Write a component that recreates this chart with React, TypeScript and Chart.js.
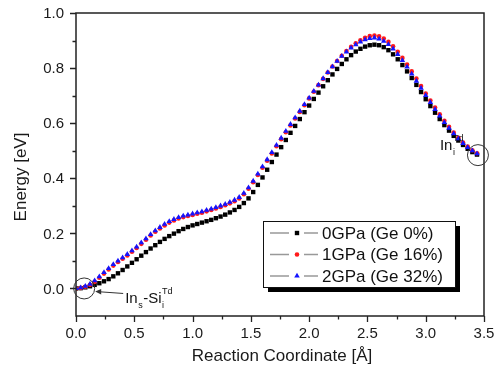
import React, { useEffect, useRef } from "react";
import { Chart, registerables } from "chart.js";

Chart.register(...registerables);

// Reaction coordinate [Å]
const X_COORD = [
  0.0, 0.04, 0.08, 0.12, 0.16, 0.2, 0.24, 0.28, 0.32, 0.36,
  0.4, 0.44, 0.48, 0.52, 0.56, 0.6, 0.64, 0.68, 0.72, 0.76,
  0.8, 0.84, 0.88, 0.92, 0.96, 1.0, 1.04, 1.08, 1.12, 1.16,
  1.2, 1.24, 1.28, 1.32, 1.36, 1.4, 1.44, 1.48, 1.52, 1.56,
  1.6, 1.64, 1.68, 1.72, 1.76, 1.8, 1.84, 1.88, 1.92, 1.96,
  2.0, 2.04, 2.08, 2.12, 2.16, 2.2, 2.24, 2.28, 2.32, 2.36,
  2.4, 2.44, 2.48, 2.52, 2.56, 2.6, 2.64, 2.68, 2.72, 2.76,
  2.8, 2.84, 2.88, 2.92, 2.96, 3.0, 3.04, 3.08, 3.12, 3.16,
  3.2, 3.24, 3.28, 3.32, 3.36, 3.4, 3.44,
];

// Energy [eV], 0 GPa (Ge 0%)
const E_0GPA = [
  0.0, 0.001, 0.004, 0.008, 0.013, 0.019, 0.026, 0.034, 0.044, 0.055,
  0.067, 0.08, 0.093, 0.106, 0.119, 0.132, 0.145, 0.157, 0.169, 0.18,
  0.19, 0.199, 0.208, 0.216, 0.223, 0.229, 0.234, 0.239, 0.244, 0.249,
  0.255, 0.261, 0.268, 0.276, 0.285, 0.296, 0.31, 0.327, 0.35, 0.376,
  0.403, 0.431, 0.459, 0.486, 0.513, 0.539, 0.565, 0.59, 0.615, 0.64,
  0.664, 0.688, 0.711, 0.734, 0.756, 0.777, 0.797, 0.815, 0.832, 0.847,
  0.86, 0.87, 0.878, 0.883, 0.885, 0.883, 0.876, 0.865, 0.85, 0.832,
  0.811, 0.788, 0.764, 0.739, 0.713, 0.687, 0.662, 0.638, 0.615, 0.593,
  0.573, 0.554, 0.537, 0.521, 0.507, 0.495, 0.486,
];

// Energy [eV], 1 GPa (Ge 16%)
const E_1GPA = [
  0.0, 0.002, 0.006, 0.013, 0.024, 0.039, 0.054, 0.069, 0.083, 0.096,
  0.108, 0.12, 0.133, 0.147, 0.162, 0.177, 0.192, 0.206, 0.218, 0.229,
  0.239, 0.247, 0.254, 0.259, 0.263, 0.267, 0.271, 0.275, 0.28, 0.285,
  0.29, 0.296, 0.302, 0.309, 0.317, 0.327, 0.342, 0.362, 0.386, 0.412,
  0.438, 0.464, 0.49, 0.516, 0.542, 0.567, 0.592, 0.617, 0.641, 0.665,
  0.69, 0.714, 0.738, 0.761, 0.784, 0.806, 0.826, 0.845, 0.862, 0.877,
  0.89, 0.901, 0.91, 0.916, 0.918, 0.915, 0.907, 0.895, 0.879, 0.859,
  0.837, 0.813, 0.788, 0.762, 0.735, 0.708, 0.682, 0.657, 0.632, 0.609,
  0.587, 0.566, 0.547, 0.53, 0.515, 0.502, 0.491,
];

// Energy [eV], 2 GPa (Ge 32%)
const E_2GPA = [
  0.0, 0.003, 0.008, 0.016, 0.028, 0.043, 0.058, 0.073, 0.087, 0.1,
  0.112, 0.124, 0.137, 0.151, 0.166, 0.181, 0.196, 0.21, 0.222, 0.233,
  0.243, 0.251, 0.258, 0.263, 0.267, 0.271, 0.275, 0.279, 0.284, 0.289,
  0.294, 0.3, 0.306, 0.313, 0.321, 0.331, 0.346, 0.366, 0.39, 0.416,
  0.442, 0.468, 0.494, 0.52, 0.546, 0.571, 0.596, 0.62, 0.644, 0.668,
  0.692, 0.716, 0.739, 0.762, 0.784, 0.805, 0.825, 0.843, 0.859, 0.873,
  0.885, 0.895, 0.903, 0.908, 0.91, 0.906, 0.898, 0.886, 0.87, 0.85,
  0.828, 0.804, 0.779, 0.753, 0.727, 0.701, 0.675, 0.65, 0.626, 0.603,
  0.582, 0.562, 0.544, 0.527, 0.512, 0.5, 0.489,
];

const SERIES_LABELS = ["0GPa (Ge 0%)", "1GPa (Ge 16%)", "2GPa (Ge 32%)"];
const SERIES_VALUES = [E_0GPA, E_1GPA, E_2GPA];
const SERIES_COLORS = ["#000000", "#ff1a1a", "#1414ff"];
const SERIES_MARKERS = ["rect", "circle", "triangle"];
const SERIES_RADII = [3.1, 2.3, 3.2];

const X_TICKS = [0, 0.5, 1.0, 1.5, 2.0, 2.5, 3.0, 3.5];
const X_TICK_LABELS = ["0.0", "0.5", "1.0", "1.5", "2.0", "2.5", "3.0", "3.5"];
const X_MINOR = [0.25, 0.75, 1.25, 1.75, 2.25, 2.75, 3.25];
const Y_TICKS = [0, 0.2, 0.4, 0.6, 0.8, 1.0];
const Y_TICK_LABELS = ["0.0", "0.2", "0.4", "0.6", "0.8", "1.0"];
const Y_MINOR = [0.1, 0.3, 0.5, 0.7, 0.9];

const X_TITLE = "Reaction Coordinate [Å]";
const Y_TITLE = "Energy [eV]";

// Annotated states (data coordinates)
const START_STATE = { x: 0.07, y: 0.0 };
const END_STATE = { x: 3.448, y: 0.484 };

const FONT = '"Liberation Sans", Arial, sans-serif';

function drawMarker(ctx: CanvasRenderingContext2D, kind: string, x: number, y: number, r: number, color: string) {
  ctx.save();
  ctx.fillStyle = color;
  ctx.beginPath();
  if (kind === "rect") {
    const s = r * Math.SQRT1_2;
    ctx.rect(x - s, y - s, 2 * s, 2 * s);
  } else if (kind === "circle") {
    ctx.arc(x, y, r, 0, Math.PI * 2);
  } else {
    const a = (2 * Math.PI) / 3;
    ctx.moveTo(x, y - r);
    ctx.lineTo(x + r * Math.sin(a), y - r * Math.cos(a));
    ctx.lineTo(x + r * Math.sin(2 * a), y - r * Math.cos(2 * a));
    ctx.closePath();
  }
  ctx.fill();
  ctx.restore();
}

type Seg = { t: string; kind: "n" | "sub" | "sup" | "subsup"; t2?: string };

function drawRich(ctx: CanvasRenderingContext2D, segs: Seg[], x: number, baseline: number) {
  ctx.save();
  ctx.fillStyle = "#111";
  ctx.textAlign = "left";
  ctx.textBaseline = "alphabetic";
  let cx = x;
  for (const s of segs) {
    if (s.kind === "n") {
      ctx.font = `15px ${FONT}`;
      ctx.fillText(s.t, cx, baseline);
      cx += ctx.measureText(s.t).width;
    } else if (s.kind === "sub") {
      ctx.font = `9px ${FONT}`;
      ctx.fillText(s.t, cx + 0.5, baseline + 5);
      cx += ctx.measureText(s.t).width + 1;
    } else if (s.kind === "sup") {
      ctx.font = `9px ${FONT}`;
      ctx.fillText(s.t, cx + 0.5, baseline - 9);
      cx += ctx.measureText(s.t).width + 1;
    } else {
      ctx.font = `9px ${FONT}`;
      ctx.fillText(s.t, cx + 0.5, baseline + 5);
      const w1 = ctx.measureText(s.t).width;
      ctx.fillText(s.t2 || "", cx + 0.5, baseline - 9);
      const w2 = ctx.measureText(s.t2 || "").width;
      cx += Math.max(w1, w2) + 1;
    }
  }
  ctx.restore();
}

const decorPlugin = {
  id: "decor",
  afterDatasetsDraw(chart: any) {
    const ctx: CanvasRenderingContext2D = chart.ctx;
    const { left, right, top, bottom } = chart.chartArea;
    const xs = chart.scales.x;
    const ys = chart.scales.y;

    ctx.save();
    // frame
    ctx.strokeStyle = "#222";
    ctx.lineWidth = 1.5;
    ctx.strokeRect(left, top, right - left, bottom - top);

    // y ticks
    ctx.lineWidth = 1.3;
    ctx.beginPath();
    for (const v of Y_TICKS) {
      const py = Math.round(ys.getPixelForValue(v)) + 0.5;
      ctx.moveTo(left - 6, py);
      ctx.lineTo(left, py);
    }
    for (const v of Y_MINOR) {
      const py = Math.round(ys.getPixelForValue(v)) + 0.5;
      ctx.moveTo(left - 3.5, py);
      ctx.lineTo(left, py);
    }
    // x ticks
    for (const v of X_TICKS) {
      const px = Math.round(xs.getPixelForValue(v)) + 0.5;
      ctx.moveTo(px, bottom);
      ctx.lineTo(px, bottom + 6);
    }
    for (const v of X_MINOR) {
      const px = Math.round(xs.getPixelForValue(v)) + 0.5;
      ctx.moveTo(px, bottom);
      ctx.lineTo(px, bottom + 3.5);
    }
    ctx.stroke();

    // tick labels
    ctx.fillStyle = "#1a1a1a";
    ctx.font = `15px ${FONT}`;
    ctx.textAlign = "right";
    ctx.textBaseline = "middle";
    Y_TICKS.forEach((v, i) => {
      ctx.fillText(Y_TICK_LABELS[i], left - 12, ys.getPixelForValue(v) + 1);
    });
    ctx.textAlign = "center";
    ctx.textBaseline = "top";
    X_TICKS.forEach((v, i) => {
      ctx.fillText(X_TICK_LABELS[i], xs.getPixelForValue(v), bottom + 10);
    });

    // titles
    ctx.font = `17px ${FONT}`;
    ctx.textBaseline = "middle";
    ctx.fillText(X_TITLE, (left + right) / 2 + 2, 356);
    ctx.save();
    ctx.translate(21, 177);
    ctx.rotate(-Math.PI / 2);
    ctx.fillText(Y_TITLE, 0, 0);
    ctx.restore();

    // annotation circles
    ctx.strokeStyle = "#333";
    ctx.lineWidth = 1;
    const c1x = xs.getPixelForValue(START_STATE.x);
    const c1y = ys.getPixelForValue(START_STATE.y);
    ctx.beginPath();
    ctx.arc(c1x, c1y, 10.5, 0, Math.PI * 2);
    ctx.stroke();
    const c2x = xs.getPixelForValue(END_STATE.x);
    const c2y = ys.getPixelForValue(END_STATE.y);
    ctx.beginPath();
    ctx.arc(c2x, c2y, 10.5, 0, Math.PI * 2);
    ctx.stroke();

    // arrow to start state
    const ax0 = c1x + 39;
    const ay0 = c1y + 5;
    const ax1 = c1x + 11;
    const ay1 = c1y + 3;
    ctx.beginPath();
    ctx.moveTo(ax0, ay0);
    ctx.lineTo(ax1 + 4, ay1 + 0.3);
    ctx.stroke();
    ctx.fillStyle = "#333";
    ctx.beginPath();
    ctx.moveTo(ax1, ay1);
    ctx.lineTo(ax1 + 6, ay1 - 2.5);
    ctx.lineTo(ax1 + 6, ay1 + 3);
    ctx.closePath();
    ctx.fill();

    drawRich(
      ctx,
      [
        { t: "In", kind: "n" },
        { t: "s", kind: "sub" },
        { t: "-Si", kind: "n" },
        { t: "i", kind: "subsup", t2: "Td" },
      ],
      c1x + 41,
      c1y + 15
    );
    drawRich(
      ctx,
      [
        { t: "In", kind: "n" },
        { t: "i", kind: "subsup", t2: "Td" },
      ],
      c2x - 38,
      c2y - 5
    );

    // legend
    const lx = 263;
    const ly = 221;
    const lw = 192;
    const lh = 66;
    ctx.fillStyle = "#000";
    ctx.fillRect(lx + 5, ly + 5, lw, lh);
    ctx.fillStyle = "#fff";
    ctx.fillRect(lx, ly, lw, lh);
    ctx.strokeStyle = "#111";
    ctx.lineWidth = 1;
    ctx.strokeRect(lx + 0.5, ly + 0.5, lw, lh);

    SERIES_LABELS.forEach((label, i) => {
      const ry = 233 + i * 21.5;
      ctx.strokeStyle = "#999";
      ctx.lineWidth = 1.5;
      ctx.beginPath();
      ctx.moveTo(270, ry);
      ctx.lineTo(289, ry);
      ctx.moveTo(304, ry);
      ctx.lineTo(318, ry);
      ctx.stroke();
      drawMarker(ctx, SERIES_MARKERS[i], 297, ry, SERIES_RADII[i], SERIES_COLORS[i]);
      ctx.fillStyle = "#111";
      ctx.font = `17px ${FONT}`;
      ctx.textAlign = "left";
      ctx.textBaseline = "middle";
      ctx.fillText(label, 322, ry + 1);
    });

    ctx.restore();
  },
};

export default function App() {
  const canvasRef = useRef<HTMLCanvasElement | null>(null);

  useEffect(() => {
    const canvas = canvasRef.current;
    if (!canvas) return;
    const datasets = SERIES_LABELS.map((label, i) => ({
      label,
      data: X_COORD.map((x, k) => ({ x, y: SERIES_VALUES[i][k] })),
      showLine: false,
      pointStyle: SERIES_MARKERS[i] as any,
      pointRadius: SERIES_RADII[i],
      pointBackgroundColor: SERIES_COLORS[i],
      pointBorderColor: SERIES_COLORS[i],
      pointBorderWidth: 0,
      order: [2, 1, 0][i],
    }));
    const chart = new Chart(canvas, {
      type: "scatter",
      data: { datasets },
      options: {
        responsive: false,
        animation: false,
        layout: { padding: { left: 76, top: 13, right: 12, bottom: 55 } },
        plugins: { legend: { display: false }, tooltip: { enabled: false } },
        scales: {
          x: { type: "linear", min: 0, max: 3.5, display: false },
          y: { type: "linear", min: -0.1, max: 1.0, display: false },
        },
      },
      plugins: [decorPlugin],
    });
    return () => chart.destroy();
  }, []);

  return (
    <div style={{ position: "fixed", left: 0, top: 0, width: 496, height: 371, background: "#fff" }}>
      <canvas ref={canvasRef} width={496} height={371} style={{ display: "block" }} />
    </div>
  );
}
